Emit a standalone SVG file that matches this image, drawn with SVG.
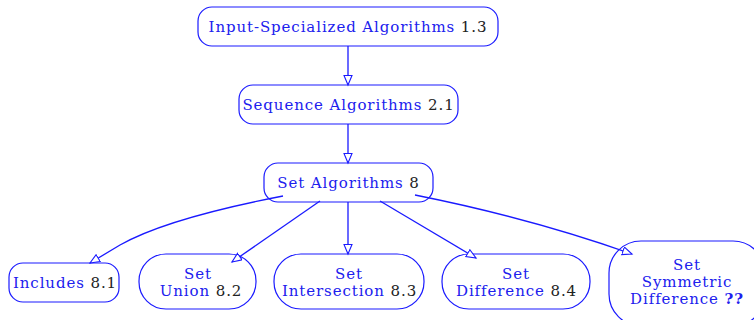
<svg xmlns="http://www.w3.org/2000/svg" width="754" height="320" viewBox="0 0 754 320">
  <style>
    .box { fill: #ffffff; stroke: #1a1aff; stroke-width: 1.2; }
    .lbl { font-family: "DejaVu Serif", "Liberation Serif", serif; font-size: 15px; letter-spacing: 0.9px; fill: #2020ee; text-anchor: middle; }
    .num { fill: #222222; }
    .bold { font-weight: bold; fill: #2020ee; }
    .edge { fill: none; stroke: #1a1aff; stroke-width: 1.3; }
  </style>
  <defs>
    <marker id="tri" markerUnits="userSpaceOnUse" markerWidth="12" markerHeight="10" refX="10" refY="4.5" orient="auto">
      <path d="M0.5,0.5 L10,4.5 L0.5,8.5 Z" fill="#ffffff" stroke="#1a1aff" stroke-width="1.1"/>
    </marker>
  </defs>

  <rect width="754" height="320" fill="#ffffff"/>

  <g id="input-specialized">
    <rect class="box" x="198" y="7" width="300" height="39" rx="14"/>
    <text class="lbl" x="348" y="32">Input-Specialized Algorithms <tspan class="num">1.3</tspan></text>
  </g>

  <g id="sequence">
    <rect class="box" x="239" y="85" width="219" height="39" rx="14"/>
    <text class="lbl" x="348.5" y="110">Sequence Algorithms <tspan class="num">2.1</tspan></text>
  </g>

  <g id="set-algorithms">
    <rect class="box" x="264" y="163" width="169" height="39" rx="14"/>
    <text class="lbl" x="348.5" y="188">Set Algorithms <tspan class="num">8</tspan></text>
  </g>

  <g id="includes">
    <rect class="box" x="9" y="263" width="110" height="39" rx="14"/>
    <text class="lbl" x="65" y="288">Includes <tspan class="num">8.1</tspan></text>
  </g>

  <g id="set-union">
    <rect class="box" x="139" y="254" width="117" height="55" rx="27"/>
    <text class="lbl" x="198" y="279">Set</text>
    <text class="lbl" x="201" y="296">Union <tspan class="num">8.2</tspan></text>
  </g>

  <g id="set-intersection">
    <rect class="box" x="274" y="254" width="150" height="55" rx="27"/>
    <text class="lbl" x="349" y="279">Set</text>
    <text class="lbl" x="349.5" y="296">Intersection <tspan class="num">8.3</tspan></text>
  </g>

  <g id="set-difference">
    <rect class="box" x="442" y="254" width="148" height="55" rx="27"/>
    <text class="lbl" x="516" y="279">Set</text>
    <text class="lbl" x="516.5" y="296">Difference <tspan class="num">8.4</tspan></text>
  </g>

  <g id="set-symmetric-difference">
    <rect class="box" x="609" y="241" width="156" height="85" rx="32"/>
    <text class="lbl" x="687" y="270">Set</text>
    <text class="lbl" x="687" y="287">Symmetric</text>
    <text class="lbl" x="687" y="304">Difference <tspan class="bold">??</tspan></text>
  </g>

  <!-- connectors drawn last so the open arrowheads sit on top of the node outlines -->
  <g id="connectors">
    <path class="edge" marker-end="url(#tri)" d="M348,46 L348,85"/>
    <path class="edge" marker-end="url(#tri)" d="M348,124 L348,163"/>
    <path class="edge" marker-end="url(#tri)" d="M283,196 C200,212 150,228 120,245 L90,263"/>
    <path class="edge" marker-end="url(#tri)" d="M320,201 L232,262"/>
    <path class="edge" marker-end="url(#tri)" d="M348,202 L348,254"/>
    <path class="edge" marker-end="url(#tri)" d="M380,201 L476,258"/>
    <path class="edge" marker-end="url(#tri)" d="M415,195 C500,212 570,232 632,254"/>
  </g>
</svg>
